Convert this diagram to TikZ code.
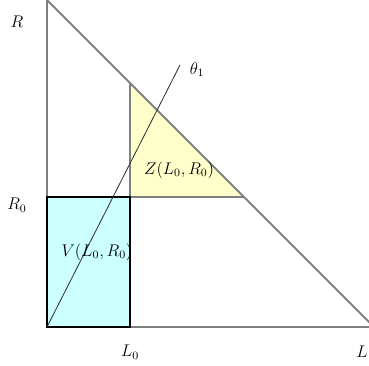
\documentclass[tikz,border=0pt]{standalone}
\usetikzlibrary{positioning,calc}
\definecolor{zfill}{RGB}{255,255,204}
\definecolor{vfill}{RGB}{204,255,255}
\begin{document}
\begin{tikzpicture}[
		axis/.style={draw=black!50, line width=1.3pt},
		zedge/.style={draw=black!50, line width=1pt},
		vbox/.style={draw=black, line width=1pt, fill=vfill},
		ray/.style={draw=black!80, line width=0.6pt},
		lab/.style={font=\large, inner sep=1pt}
		]
		\useasboundingbox (-1.175,-0.975) rectangle (8.05,8.175);
		\clip (-1.175,-0.975) rectangle (8.05,8.175);
		
		% -------------------------------------------------
		% Points
		% -------------------------------------------------
		\coordinate (O) at (0,0);
		\coordinate (Rtop) at (0,8.175);
		\coordinate (Lend) at (8.175,0);
		\coordinate (L0) at (2.075,0);
		\coordinate (R0) at (0,3.25);
		\coordinate (P) at (2.075,3.25);
		\coordinate (Ztop) at (2.075,6.1);
		\coordinate (Zright) at (4.925,3.25);
		\coordinate (T1) at (3.325,6.55);
		
		% -------------------------------------------------
		% Regions
		% -------------------------------------------------
		\fill[zfill] (P) -- (Ztop) -- (Zright) -- cycle;
		\draw[zedge] (Ztop) -- (P) -- (Zright);
		\draw[axis] (R0) -- (Rtop) -- (Lend) -- (L0);
		\draw[vbox] (O) rectangle (P);
		\draw[ray] (O) -- (T1);
		
		% -------------------------------------------------
		% Labels
		% -------------------------------------------------
		\node[lab] (r) at (-0.75,7.625) {$R$};
		\node[lab] (r0) at (-0.75,3.05) {$R_0$};
		\node[lab] (l0) at (2.075,-0.625) {$L_0$};
		\node[lab] (l) at (7.875,-0.625) {$L$};
		\node[lab] (t1) at (3.75,6.43) {$\theta_1$};
		\node[lab] (v) at (1.25,1.875) {$V(L_0,R_0)$};
		\node[lab] (z) at (3.3,3.925) {$Z(L_0,R_0)$};
		
	\end{tikzpicture}
\end{document}
